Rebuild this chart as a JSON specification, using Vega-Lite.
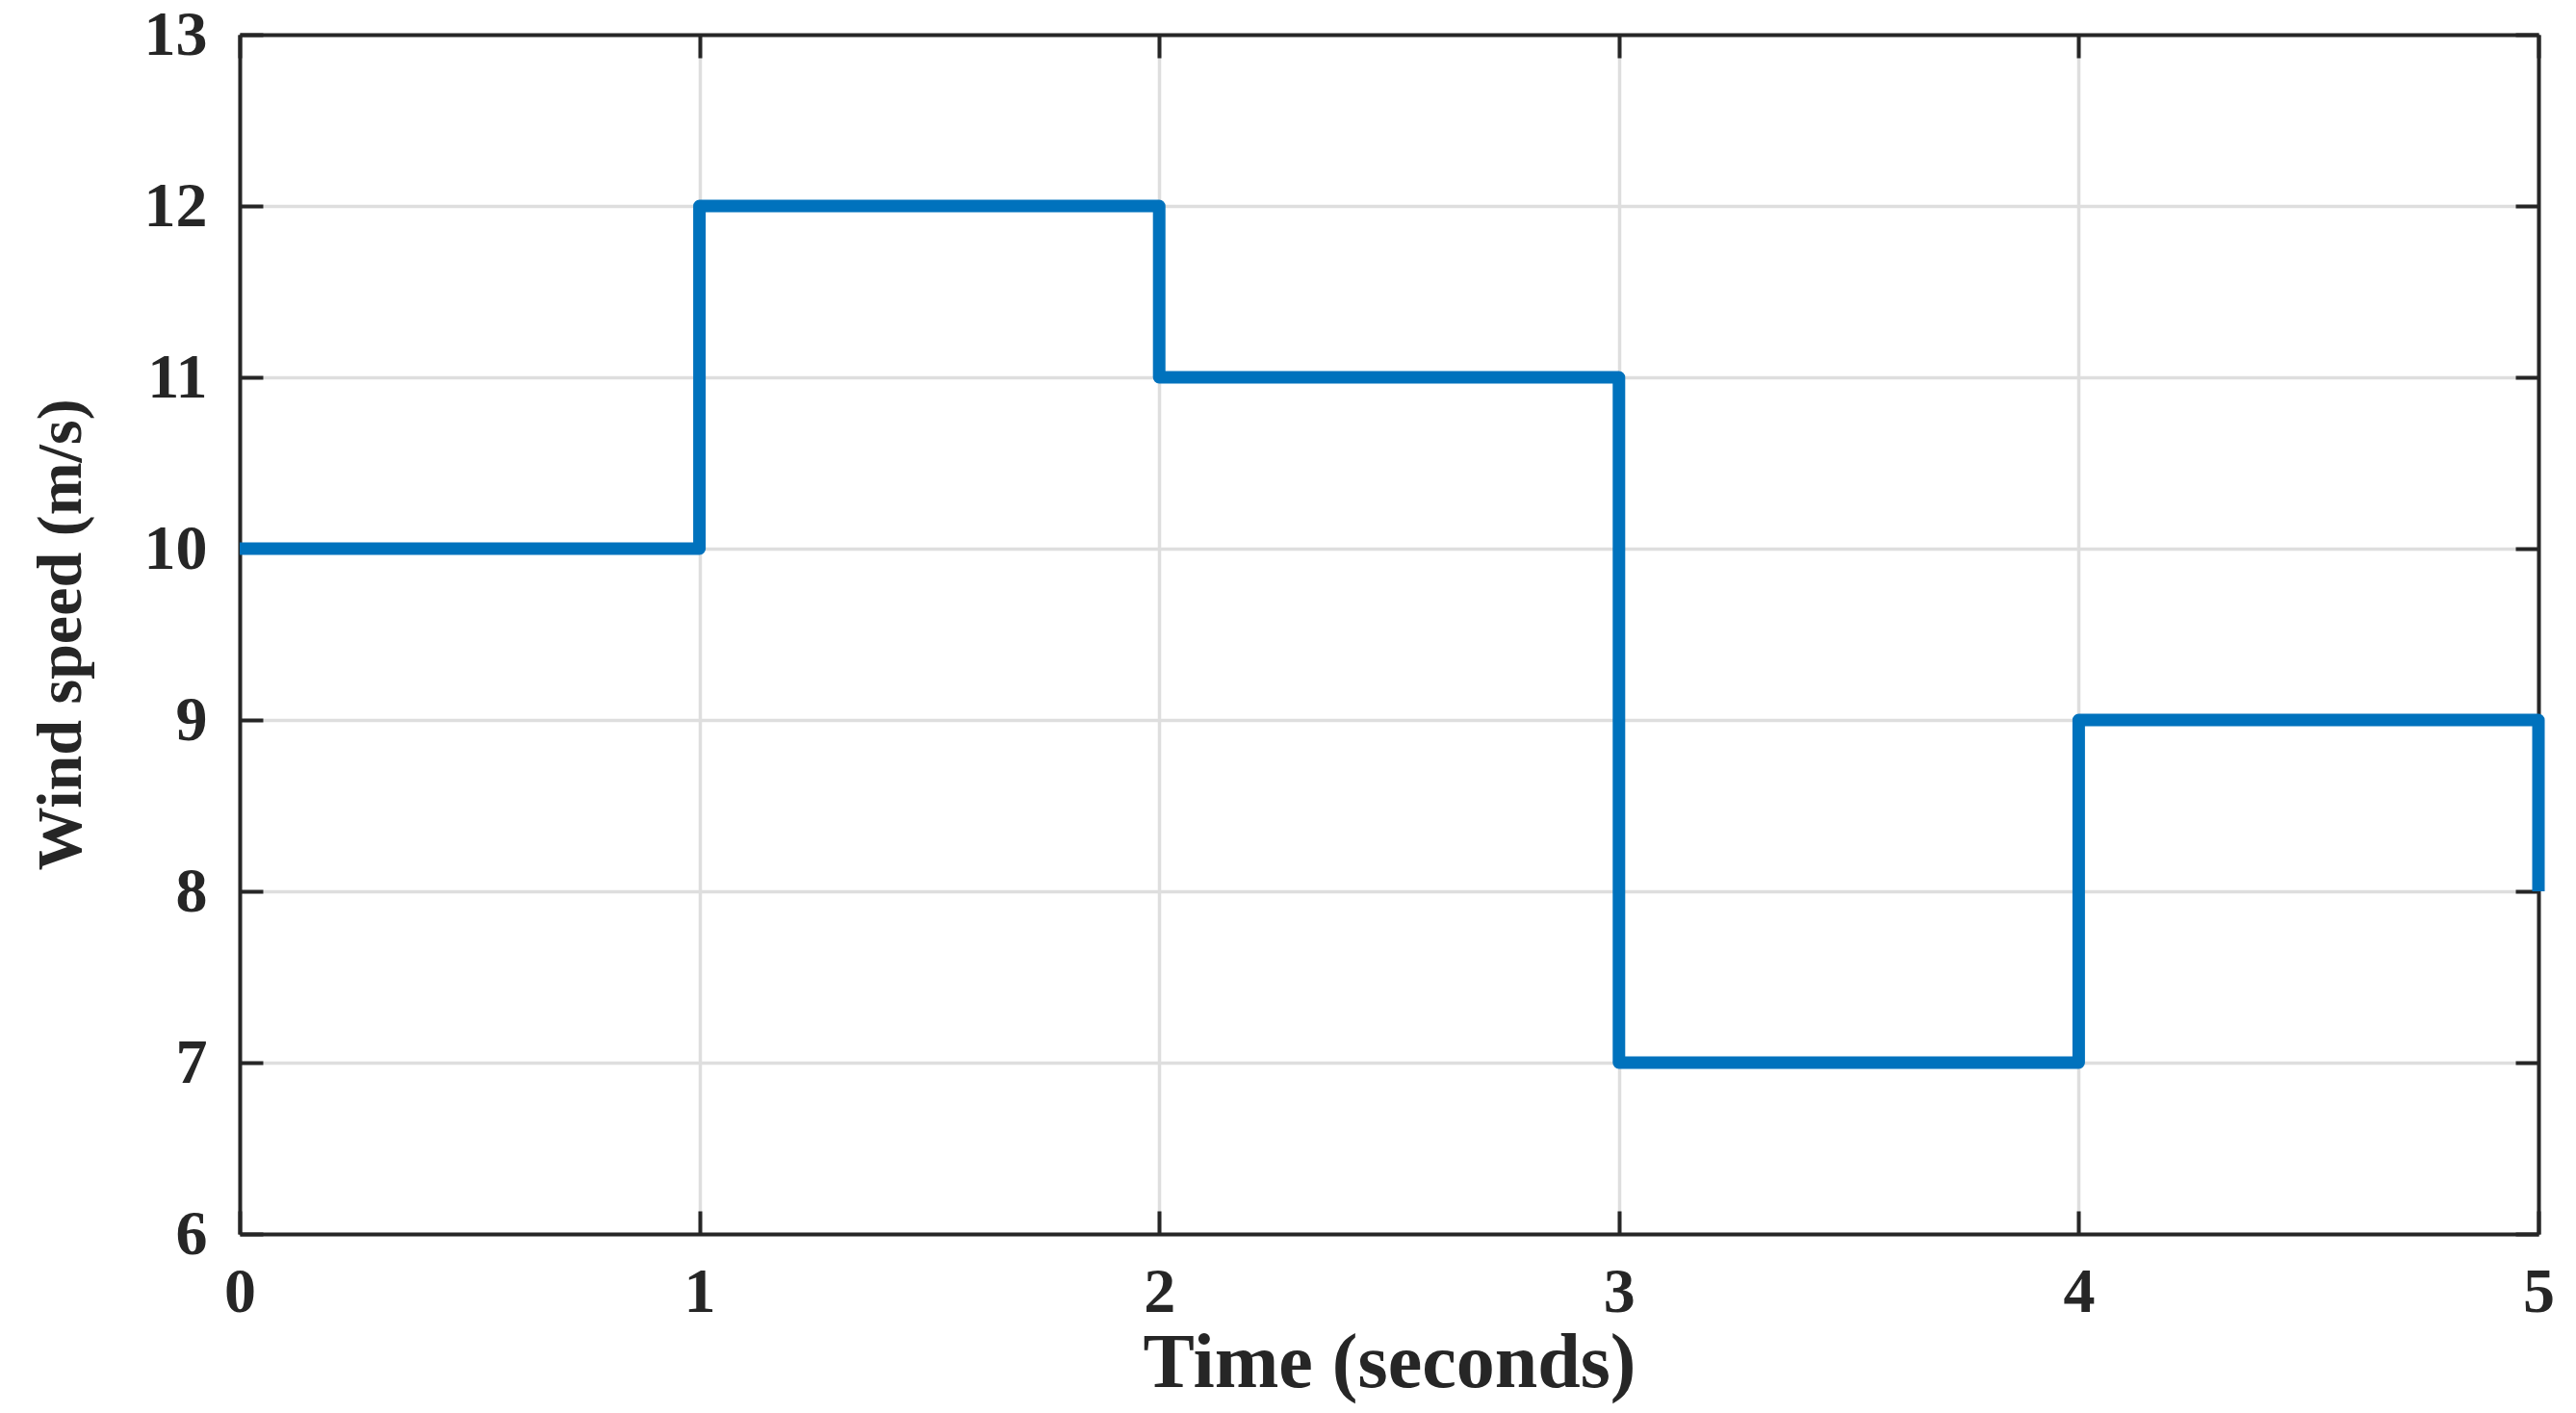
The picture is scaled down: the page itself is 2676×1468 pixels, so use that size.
{
  "$schema": "https://vega.github.io/schema/vega-lite/v6.json",
  "width": 2388,
  "height": 1246,
  "autosize": {"type": "none"},
  "padding": {"left": 249, "top": 36, "right": 39, "bottom": 186},
  "background": "white",
  "config": {
    "view": {"stroke": null},
    "axis": {
      "labelFont": "Liberation Serif",
      "labelFontWeight": "bold",
      "labelFontSize": 66,
      "labelColor": "#262626",
      "titleFont": "Liberation Serif",
      "titleFontWeight": "bold",
      "titleColor": "#262626",
      "domainColor": "#262626",
      "domainWidth": 4,
      "tickColor": "#262626",
      "tickWidth": 4,
      "tickSize": -24,
      "gridColor": "#dedede",
      "gridWidth": 3.5,
      "gridOpacity": 1
    }
  },
  "data": {
    "values": [
      {"i": 0, "t": 0, "v": 10},
      {"i": 1, "t": 1, "v": 10},
      {"i": 2, "t": 1, "v": 12},
      {"i": 3, "t": 2, "v": 12},
      {"i": 4, "t": 2, "v": 11},
      {"i": 5, "t": 3, "v": 11},
      {"i": 6, "t": 3, "v": 7},
      {"i": 7, "t": 4, "v": 7},
      {"i": 8, "t": 4, "v": 9},
      {"i": 9, "t": 5, "v": 9},
      {"i": 10, "t": 5, "v": 8}
    ]
  },
  "layer": [
    {
      "mark": {"type": "line", "color": "#0072BD", "strokeWidth": 13, "strokeJoin": "round", "strokeCap": "butt", "clip": false},
      "encoding": {
        "x": {
          "field": "t", "type": "quantitative",
          "scale": {"domain": [0, 5], "nice": false, "zero": false},
          "axis": {
            "orient": "bottom",
            "values": [0, 1, 2, 3, 4, 5],
            "format": "d",
            "grid": true,
            "labelPadding": 52,
            "labelBaseline": "top",
            "labelFlush": false,
            "title": "Time (seconds)",
            "titleFontSize": 80,
            "titleBaseline": "alphabetic",
            "titleAnchor": "middle",
            "titleX": 1194,
            "titleY": 158
          }
        },
        "y": {
          "field": "v", "type": "quantitative",
          "scale": {"domain": [6, 13], "nice": false, "zero": false},
          "axis": {
            "orient": "left",
            "values": [6, 7, 8, 9, 10, 11, 12, 13],
            "format": "d",
            "grid": true,
            "labelPadding": 58,
            "labelBaseline": "middle",
            "labelFlush": false,
            "title": "Wind speed (m/s)",
            "titleFontSize": 66,
            "titleAngle": 270,
            "titleBaseline": "alphabetic",
            "titleAlign": "center",
            "titleX": -166,
            "titleY": 623
          }
        },
        "order": {"field": "i", "type": "quantitative"}
      }
    },
    {
      "mark": {"type": "line", "strokeOpacity": 0, "strokeWidth": 0},
      "encoding": {
        "x": {
          "field": "t", "type": "quantitative",
          "scale": {"domain": [0, 5], "nice": false, "zero": false},
          "axis": {"orient": "top", "values": [0, 1, 2, 3, 4, 5], "labels": false, "grid": false, "title": null}
        },
        "y": {
          "field": "v", "type": "quantitative",
          "scale": {"domain": [6, 13], "nice": false, "zero": false},
          "axis": {"orient": "right", "values": [6, 7, 8, 9, 10, 11, 12, 13], "labels": false, "grid": false, "title": null}
        },
        "order": {"field": "i", "type": "quantitative"}
      }
    }
  ],
  "resolve": {"axis": {"x": "independent", "y": "independent"}}
}
